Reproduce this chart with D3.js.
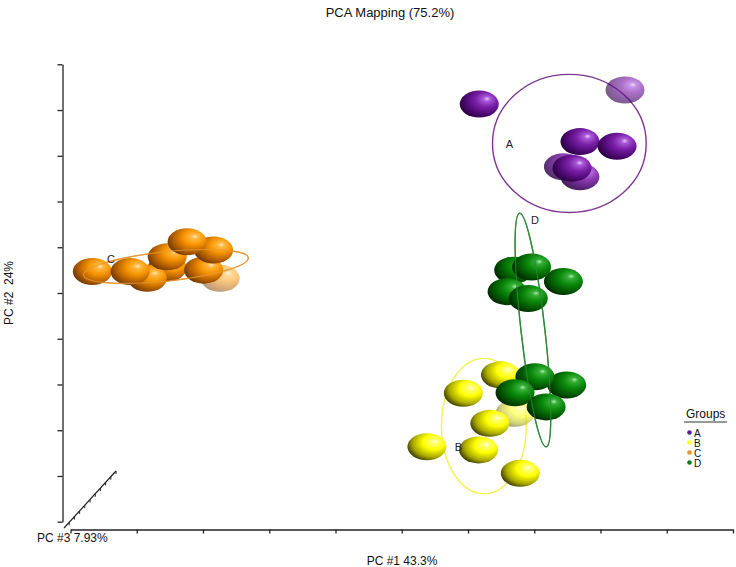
<!DOCTYPE html>
<html><head><meta charset="utf-8">
<script src="https://cdn.jsdelivr.net/npm/d3@7"></script>
<style>html,body{margin:0;padding:0;background:#fff;} text{font-family:"Liberation Sans",Arial,sans-serif;}</style>
</head><body>
<svg id="chart" width="736" height="567"></svg>
<script>
// ---- data ----
const groups = ["A","B","C","D"];
const titleText = "PCA Mapping (75.2%)";
const xLabel = "PC #1 43.3%";
const yLabel = "PC #2  24%";
const zLabel = "PC #3 7.93%";
const tickValues = [0,1,2,3,4,5,6,7,8,9,10];

const groupA_pc1 = [6.17, 8.37, 7.69, 8.25, 7.44, 7.57, 7.69];
const groupA_pc2 = [9.13, 9.44, 8.31, 8.21, 7.76, 7.73, 7.54];
const groupA_pc3 = [0.5, -0.6, 0.4, 0.5, -0.3, 0.6, -0.2];

const groupB_pc1 = [6.49, 5.93, 6.71, 6.33, 5.38, 6.16, 6.79];
const groupB_pc2 = [3.21, 2.81, 2.37, 2.15, 1.64, 1.57, 1.06];
const groupB_pc3 = [0.3, 0.4, -0.8, 0.2, 0.5, 0.6, 0.5];

const groupC_pc1 = [0.33, 0.90, 1.16, 1.46, 1.46, 1.76, 2.16, 2.01, 2.26];
const groupC_pc2 = [5.47, 5.47, 5.32, 5.79, 5.55, 6.12, 5.94, 5.50, 5.32];
const groupC_pc3 = [0.5, 0.6, 0.2, 0.7, 0.1, 0.8, 0.4, 0.3, -0.8];

const groupD_pc1 = [6.69, 6.96, 7.44, 6.59, 6.91, 7.01, 7.49, 6.71, 7.18];
const groupD_pc2 = [5.50, 5.57, 5.25, 5.03, 4.88, 3.17, 2.99, 2.82, 2.51];
const groupD_pc3 = [0.2, 0.5, 0.3, 0.4, 0.6, 0.6, 0.5, 0.7, 0.8];

// confidence ellipses (data units): centre pc1, centre pc2, semi-axis pc1, semi-axis pc2, rotation deg
const ellipseCx = [7.53, 6.24, 1.44, 6.98];
const ellipseCy = [8.27, 2.09, 5.58, 4.19];
const ellipseRx = [1.16, 0.64, 1.25, 0.18];
const ellipseRy = [1.51, 1.48, 0.32, 2.57];
const ellipseRot = [0, 0, -6, -6.5];
// label anchor (data units)
const labelX = [6.57, 5.80, 0.55, 6.95];
const labelY = [8.25, 1.63, 5.75, 6.59];

// ---- styles ----
const sphereStops = {
  A: ["#ecc8f8", "#a858d8", "#7b1fa8", "#4a0870", "#220032"],
  B: ["#ffffe6", "#ffff70", "#ffff00", "#a8a800", "#222200"],
  C: ["#ffe8b8", "#ffb840", "#f79400", "#b05c00", "#5e3000"],
  D: ["#a8eca8", "#38ae38", "#0b8a0b", "#005200", "#001c00"]
};
const ellipseColor = {A:"#7d3590", B:"#f2f24a", C:"#e89a3a", D:"#2f8a3a"};
const legendColor = {A:"#5c1e8e", B:"#ffff33", C:"#f0902a", D:"#15771a"};

const svg = d3.select("#chart");
const x = d3.scaleLinear().domain([0,10]).range([70.5, 733]);
const y = d3.scaleLinear().domain([0,10]).range([521.7, 64.3]);
const zx = d3.scaleLinear().domain([0,10]).range([64, 116]);
const zy = d3.scaleLinear().domain([0,10]).range([528, 471]);
const opacity = d3.scaleLinear().domain([-1,0]).range([0.4,1]).clamp(true);

// gradients
const defs = svg.append("defs");
groups.forEach(g => {
  const grad = defs.append("radialGradient").attr("id","grad"+g)
    .attr("cx","0.66").attr("cy","0.38").attr("r","0.74").attr("fx","0.7").attr("fy","0.3");
  const offs = [0, 0.12, 0.38, 0.72, 1];
  sphereStops[g].forEach((c,i)=> grad.append("stop").attr("offset",offs[i]).attr("stop-color",c));
});

// title
svg.append("text").attr("x",390).attr("y",17).attr("text-anchor","middle")
  .attr("font-size",13).attr("fill","#111").text(titleText);

// axes
const yAxis = d3.axisLeft(y).tickValues(tickValues).tickSize(5).tickSizeOuter(0).tickFormat("");
const yg = svg.append("g").attr("transform","translate(62.5,0)").call(yAxis);
const xAxis = d3.axisBottom(x).tickValues(tickValues).tickSize(4).tickSizeOuter(0).tickFormat("");
const xg = svg.append("g").attr("transform","translate(0,529.5)").call(xAxis);
[yg,xg].forEach(g=>{ g.selectAll("path,line").attr("stroke","#222").attr("stroke-width",1.3); });

// PC3 oblique axis
svg.append("line").attr("x1",zx(0)).attr("y1",zy(0)).attr("x2",zx(10)).attr("y2",zy(10))
  .attr("stroke","#222").attr("stroke-width",1.2);
svg.append("g").selectAll("line").data(tickValues.slice(1)).join("line")
  .attr("x1",d=>zx(d)).attr("y1",d=>zy(d)).attr("x2",d=>zx(d)).attr("y2",d=>zy(d)+3)
  .attr("stroke","#222").attr("stroke-width",1);

// axis labels
svg.append("text").attr("x",402).attr("y",565).attr("text-anchor","middle").attr("font-size",12).attr("fill","#111").text(xLabel);
svg.append("text").attr("x",37).attr("y",542).attr("font-size",12).attr("fill","#111").text(zLabel);
svg.append("text").attr("transform","translate(13,293) rotate(-90)").attr("text-anchor","middle")
  .attr("font-size",12).attr("fill","#111").style("white-space","pre").attr("xml:space","preserve").text(yLabel);

// points
const pointsData = [];
const cols = {A:[groupA_pc1,groupA_pc2,groupA_pc3],B:[groupB_pc1,groupB_pc2,groupB_pc3],
              C:[groupC_pc1,groupC_pc2,groupC_pc3],D:[groupD_pc1,groupD_pc2,groupD_pc3]};
groups.forEach(g => cols[g][0].forEach((v,i)=> pointsData.push({g, pc1:v, pc2:cols[g][1][i], pc3:cols[g][2][i]})));
pointsData.sort((a,b)=> a.pc3 - b.pc3);

function drawEllipse(sel, i, g, w, op){
  const cx = x(ellipseCx[i]), cy = y(ellipseCy[i]);
  const rx = x(ellipseCx[i]+ellipseRx[i]) - cx, ry = cy - y(ellipseCy[i]+ellipseRy[i]);
  sel.append("ellipse").attr("cx",cx).attr("cy",cy).attr("rx",rx).attr("ry",ry)
    .attr("transform",`rotate(${ellipseRot[i]},${cx},${cy})`)
    .attr("fill","none").attr("stroke",ellipseColor[g]).attr("stroke-width",w).attr("stroke-opacity",op);
}
const ellG = svg.append("g");
groups.forEach((g,i)=> drawEllipse(ellG, i, g, 1.4, 1));

svg.append("g").selectAll("ellipse").data(pointsData).join("ellipse")
  .attr("cx",d=>x(d.pc1)).attr("cy",d=>y(d.pc2))
  .attr("rx",19.5).attr("ry",13.5)
  .attr("fill",d=>`url(#grad${d.g})`)
  .attr("opacity",d=>opacity(d.pc3));

// D and C ellipses pass in front of their spheres
const frontG = svg.append("g");
groups.forEach((g,i)=>{ if (g==="D" || g==="C") drawEllipse(frontG, i, g, 1.2, 0.75); });

// group labels
svg.append("g").selectAll("text").data(groups).join("text")
  .attr("x",(d,i)=>x(labelX[i])).attr("y",(d,i)=>y(labelY[i])+4)
  .attr("font-size",11).attr("fill","#222").text(d=>d);

// legend
const lg = svg.append("g");
lg.append("text").attr("x",686).attr("y",418).attr("font-size",12).attr("fill","#111").text("Groups");
lg.append("line").attr("x1",684).attr("x2",727).attr("y1",422).attr("y2",422).attr("stroke","#333").attr("stroke-width",1);
groups.forEach((g,i)=>{
  lg.append("circle").attr("cx",689.5).attr("cy",432.5+i*10).attr("r",2.3).attr("fill",legendColor[g]);
  lg.append("text").attr("x",694).attr("y",436.5+i*10).attr("font-size",10).attr("fill","#111").text(g);
});
</script>
</body></html>
